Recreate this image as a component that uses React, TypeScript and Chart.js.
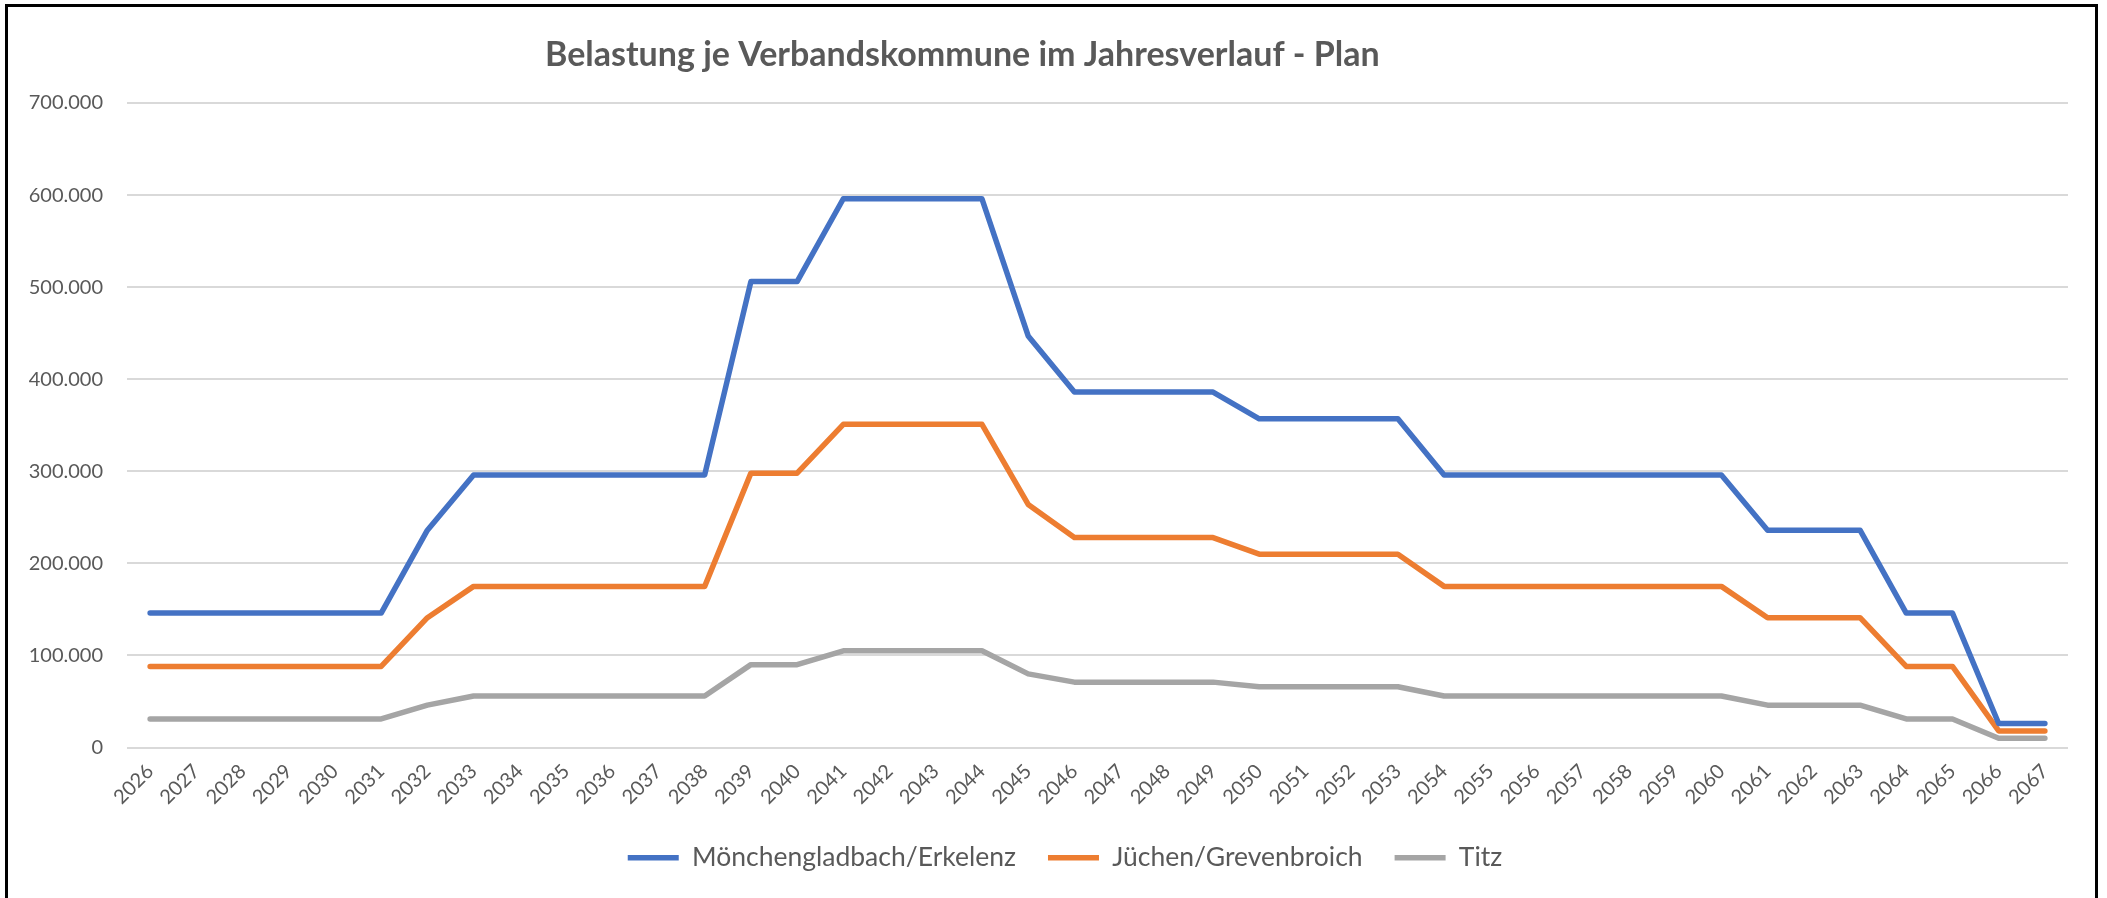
import React, { useEffect, useRef } from 'react';
import { Chart, registerables } from 'chart.js';

Chart.register(...registerables);

const TITLE = 'Belastung je Verbandskommune im Jahresverlauf - Plan';

const years = [
  '2026', '2027', '2028', '2029', '2030', '2031', '2032', '2033', '2034', '2035',
  '2036', '2037', '2038', '2039', '2040', '2041', '2042', '2043', '2044', '2045',
  '2046', '2047', '2048', '2049', '2050', '2051', '2052', '2053', '2054', '2055',
  '2056', '2057', '2058', '2059', '2060', '2061', '2062', '2063', '2064', '2065',
  '2066', '2067',
];

const moenchengladbachErkelenz = [
  146000, 146000, 146000, 146000, 146000, 146000,
  236000,
  296000, 296000, 296000, 296000, 296000, 296000,
  506000, 506000,
  596000, 596000, 596000, 596000,
  447000,
  386000, 386000, 386000, 386000,
  357000, 357000, 357000, 357000,
  296000, 296000, 296000, 296000, 296000, 296000, 296000,
  236000, 236000, 236000,
  146000, 146000,
  26000, 26000,
];

const juechenGrevenbroich = [
  88000, 88000, 88000, 88000, 88000, 88000,
  141000,
  175000, 175000, 175000, 175000, 175000, 175000,
  298000, 298000,
  351000, 351000, 351000, 351000,
  264000,
  228000, 228000, 228000, 228000,
  210000, 210000, 210000, 210000,
  175000, 175000, 175000, 175000, 175000, 175000, 175000,
  141000, 141000, 141000,
  88000, 88000,
  18000, 18000,
];

const titz = [
  31000, 31000, 31000, 31000, 31000, 31000,
  46000,
  56000, 56000, 56000, 56000, 56000, 56000,
  90000, 90000,
  105000, 105000, 105000, 105000,
  80000,
  71000, 71000, 71000, 71000,
  66000, 66000, 66000, 66000,
  56000, 56000, 56000, 56000, 56000, 56000, 56000,
  46000, 46000, 46000,
  31000, 31000,
  10000, 10000,
];

const seriesNames = ['Mönchengladbach/Erkelenz', 'Jüchen/Grevenbroich', 'Titz'];
const seriesColors = ['#4472C4', '#ED7D31', '#A5A5A5'];

const yMin = 0;
const yMax = 700000;
const yStep = 100000;

const formatDe = (v: number) =>
  String(Math.round(v)).replace(/\B(?=(\d{3})+(?!\d))/g, '.');

const FONT = 'Lato, "Open Sans", sans-serif';
const TEXT_COLOR = '#595959';

const layoutPlugin = {
  id: 'customTitleAndLegendShift',
  afterLayout(chart: any) {
    const lg = chart.legend;
    if (lg) {
      lg.left += 31;
      lg.right += 31;
    }
  },
  afterDraw(chart: any) {
    const ctx = chart.ctx;
    ctx.save();
    ctx.font = `bold 34px ${FONT}`;
    ctx.fillStyle = TEXT_COLOR;
    ctx.textAlign = 'left';
    ctx.textBaseline = 'alphabetic';
    ctx.fillText(TITLE, 545, 66);
    ctx.restore();
  },
};

export default function App() {
  const canvasRef = useRef<HTMLCanvasElement | null>(null);

  useEffect(() => {
    document.body.style.margin = '0';
    const canvas = canvasRef.current;
    if (!canvas) return;
    const data = [moenchengladbachErkelenz, juechenGrevenbroich, titz];
    const chart = new Chart(canvas, {
      type: 'line',
      data: {
        labels: years,
        datasets: seriesNames.map((name, i) => ({
          label: name,
          data: data[i],
          borderColor: seriesColors[i],
          backgroundColor: seriesColors[i],
          borderWidth: 5.5,
          borderCapStyle: 'round',
          borderJoinStyle: 'round',
          pointRadius: 0,
          pointHoverRadius: 0,
          pointStyle: 'line',
          tension: 0,
          fill: false,
        })),
      },
      options: {
        animation: false,
        responsive: false,
        maintainAspectRatio: false,
        events: [],
        layout: {
          padding: { left: 0, right: 39, top: 103, bottom: 17 },
        },
        scales: {
          x: {
            type: 'category',
            offset: true,
            grid: { display: false, drawTicks: false },
            border: { display: false },
            ticks: {
              autoSkip: false,
              maxRotation: 45,
              minRotation: 45,
              padding: 12,
              color: TEXT_COLOR,
              font: { family: FONT, size: 20 },
            },
            afterFit: (scale: any) => {
              scale.height = 65;
            },
          },
          y: {
            min: yMin,
            max: yMax,
            grid: { color: '#D9D9D9', lineWidth: 2, drawTicks: false },
            border: { display: false },
            ticks: {
              stepSize: yStep,
              padding: 24,
              color: TEXT_COLOR,
              font: { family: FONT, size: 20 },
              callback: (v: any) => formatDe(Number(v)),
            },
            afterFit: (scale: any) => {
              scale.width = 127;
            },
          },
        },
        plugins: {
          title: { display: false },
          tooltip: { enabled: false },
          legend: {
            display: true,
            position: 'bottom',
            labels: {
              usePointStyle: true,
              pointStyle: 'line',
              pointStyleWidth: 51,
              padding: 32,
              color: TEXT_COLOR,
              font: { family: FONT, size: 26.5 },
            },
          },
        },
      },
      plugins: [layoutPlugin],
    } as any);
    return () => chart.destroy();
  }, []);

  return (
    <div
      style={{
        position: 'relative',
        width: 2107,
        height: 898,
        overflow: 'hidden',
        background: '#ffffff',
      }}
    >
      <canvas
        ref={canvasRef}
        width={2107}
        height={898}
        style={{ position: 'absolute', left: 0, top: 0, width: 2107, height: 898 }}
      />
      <div
        style={{
          position: 'absolute',
          left: 5,
          top: 4,
          width: 2093,
          height: 1000,
          border: '3px solid #000000',
          boxSizing: 'border-box',
          pointerEvents: 'none',
        }}
      />
    </div>
  );
}
